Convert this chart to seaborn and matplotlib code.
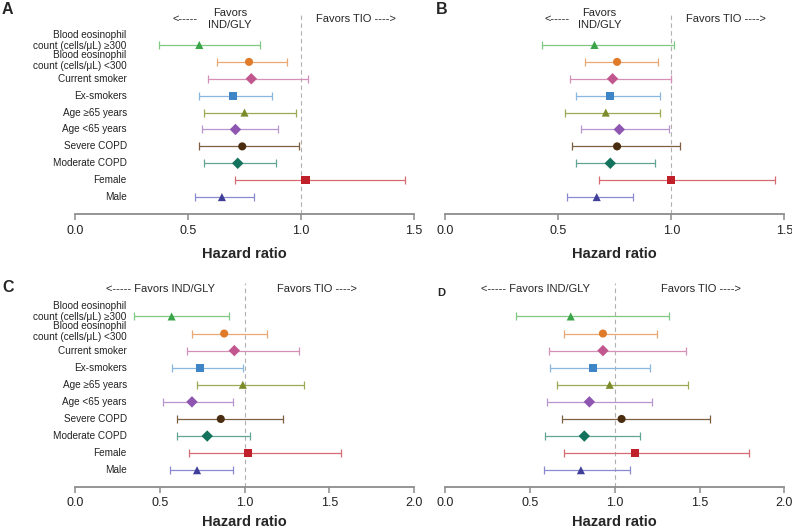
import numpy as np
import pandas as pd
import seaborn as sns
import matplotlib.pyplot as plt

# subgroup labels (top to bottom)
labels = ["Blood eosinophil\ncount (cells/\u03bcL) \u2265300",
          "Blood eosinophil\ncount (cells/\u03bcL) <300",
          "Current smoker", "Ex-smokers", "Age \u226565 years", "Age <65 years",
          "Severe COPD", "Moderate COPD", "Female", "Male"]

# hazard ratios and 95% CI per panel
hr_a = [0.55, 0.77, 0.78, 0.70, 0.75, 0.71, 0.74, 0.72, 1.02, 0.65]
lo_a = [0.37, 0.63, 0.59, 0.55, 0.57, 0.56, 0.55, 0.57, 0.71, 0.53]
hi_a = [0.82, 0.94, 1.03, 0.87, 0.98, 0.90, 0.99, 0.89, 1.46, 0.79]

hr_b = [0.66, 0.76, 0.74, 0.73, 0.71, 0.77, 0.76, 0.73, 1.00, 0.67]
lo_b = [0.43, 0.62, 0.55, 0.58, 0.53, 0.60, 0.56, 0.58, 0.68, 0.54]
hi_b = [1.01, 0.94, 1.00, 0.95, 0.95, 0.99, 1.04, 0.93, 1.46, 0.83]

hr_c = [0.57, 0.88, 0.94, 0.74, 0.99, 0.69, 0.86, 0.78, 1.02, 0.72]
lo_c = [0.35, 0.69, 0.66, 0.57, 0.72, 0.52, 0.60, 0.60, 0.67, 0.56]
hi_c = [0.91, 1.13, 1.32, 0.99, 1.35, 0.93, 1.23, 1.03, 1.57, 0.93]

hr_d = [0.74, 0.93, 0.93, 0.87, 0.97, 0.85, 1.04, 0.82, 1.12, 0.80]
lo_d = [0.42, 0.70, 0.61, 0.62, 0.66, 0.60, 0.69, 0.59, 0.70, 0.58]
hi_d = [1.32, 1.25, 1.42, 1.21, 1.43, 1.22, 1.56, 1.15, 1.79, 1.09]

ticks_ab = [0.0, 0.5, 1.0, 1.5]
ticks_cd = [0.0, 0.5, 1.0, 1.5, 2.0]

marker_colors = ["#3aa548", "#e07b2a", "#c2578f", "#3d85c6", "#7d8c2a",
                 "#8e56b0", "#4a2c10", "#13735c", "#c0202a", "#3f3f9a"]
line_colors = ["#80c884", "#e9a873", "#d690b8", "#8ab6e2", "#9ea955",
               "#b896d0", "#7d5f42", "#62a595", "#d76b72", "#8a8ad2"]
markers = ["^", "o", "D", "s", "^", "D", "o", "D", "s", "^"]

sns.set_style("white")
plt.rcParams["font.family"] = ["Liberation Sans", "DejaVu Sans"]

W, H = 792, 529
fig = plt.figure(figsize=(W / 100, H / 100), dpi=100)


def px_axes(x0, x1, ytop, ybot):
    return fig.add_axes([x0 / W, 1 - ybot / H, (x1 - x0) / W, (ybot - ytop) / H])


def forest(ax, hr, lo, hi, ticks, show_labels, header_two_line, hdr_left_x, hdr_right_x,
           arrow_x=None, tpad=4, lpad=7):
    df = pd.DataFrame({"label": labels, "hr": hr, "lo": lo, "hi": hi, "row": np.arange(len(labels))})
    for i, r in df.iterrows():
        ax.errorbar(r["hr"], r["row"], xerr=[[r["hr"] - r["lo"]], [r["hi"] - r["hr"]]],
                    fmt="none", ecolor=line_colors[i], elinewidth=0.9, capsize=3.2, capthick=0.9, zorder=2)
    sns.scatterplot(data=df, x="hr", y="row", hue="label", style="label",
                    palette=dict(zip(labels, marker_colors)), markers=dict(zip(labels, markers)),
                    s=34, linewidth=0, legend=False, ax=ax, zorder=3)
    ax.plot([1.0, 1.0], [10, -1.95], color="#b0b0b0", lw=0.8, dashes=(4, 3), zorder=1)
    ax.set_xlim(ticks[0], ticks[-1])
    ax.set_ylim(10, -2.66)
    ax.set_xticks(ticks)
    ax.set_xticklabels([f"{t:.1f}" for t in ticks], fontsize=9, color="#222222")
    ax.set_yticks([])
    ax.set_ylabel("")
    ax.set_xlabel("Hazard ratio", fontsize=10.5, fontweight="bold", labelpad=lpad)
    for s in ["top", "right", "left"]:
        ax.spines[s].set_visible(False)
    ax.spines["bottom"].set_color("#8c8c8c")
    ax.spines["bottom"].set_linewidth(1.3)
    ax.tick_params(axis="x", direction="out", length=4, width=1.1, color="#8c8c8c", pad=tpad, bottom=True)
    if show_labels:
        for i, lab in enumerate(labels):
            yy = i - 0.27 if i == 0 else i - 0.1 if i == 1 else i
            ax.text(0.1525, yy, lab, transform=ax.get_yaxis_transform(), ha="right", va="center",
                    fontsize=7.2, color="#222222", linespacing=1.12)
    if header_two_line:
        ax.text(arrow_x, -1.55, "<-----", ha="center", va="center", fontsize=8)
        ax.text(hdr_left_x, -1.55, "Favors\nIND/GLY", ha="center", va="center", fontsize=8, linespacing=1.25)
        ax.text(hdr_right_x, -1.55, "Favors TIO ---->", ha="center", va="center", fontsize=8)
    else:
        ax.text(hdr_left_x, -1.6, "<----- Favors IND/GLY", ha="center", va="center", fontsize=8)
        ax.text(hdr_right_x, -1.6, "Favors TIO ---->", ha="center", va="center", fontsize=8)


ax_a = px_axes(75, 414, 0, 214)
forest(ax_a, hr_a, lo_a, hi_a, ticks_ab, True, True, 0.686, 1.245, arrow_x=0.489)
ax_b = px_axes(445.3, 784.3, 0, 214)
forest(ax_b, hr_b, lo_b, hi_b, ticks_ab, False, True, 0.682, 1.24, arrow_x=0.495)
ax_c = px_axes(75, 414, 271, 487.3)
forest(ax_c, hr_c, lo_c, hi_c, ticks_cd, True, False, 0.504, 1.429, tpad=3, lpad=4.5)
ax_d = px_axes(445.3, 784.3, 271, 487.3)
forest(ax_d, hr_d, lo_d, hi_d, ticks_cd, False, False, 0.532, 1.509, tpad=3, lpad=4.5)

fig.text(2 / W, 1 - 2 / H, "A", fontsize=11.5, fontweight="bold", va="top", ha="left")
fig.text(436 / W, 1 - 2 / H, "B", fontsize=11.5, fontweight="bold", va="top", ha="left")
fig.text(2 / W, 1 - 280 / H, "C", fontsize=11.5, fontweight="bold", va="top", ha="left")
fig.text(437 / W, 1 - 288 / H, "D", fontsize=8, fontweight="bold", va="top", ha="left")

fig.savefig("out.png", dpi=100)
